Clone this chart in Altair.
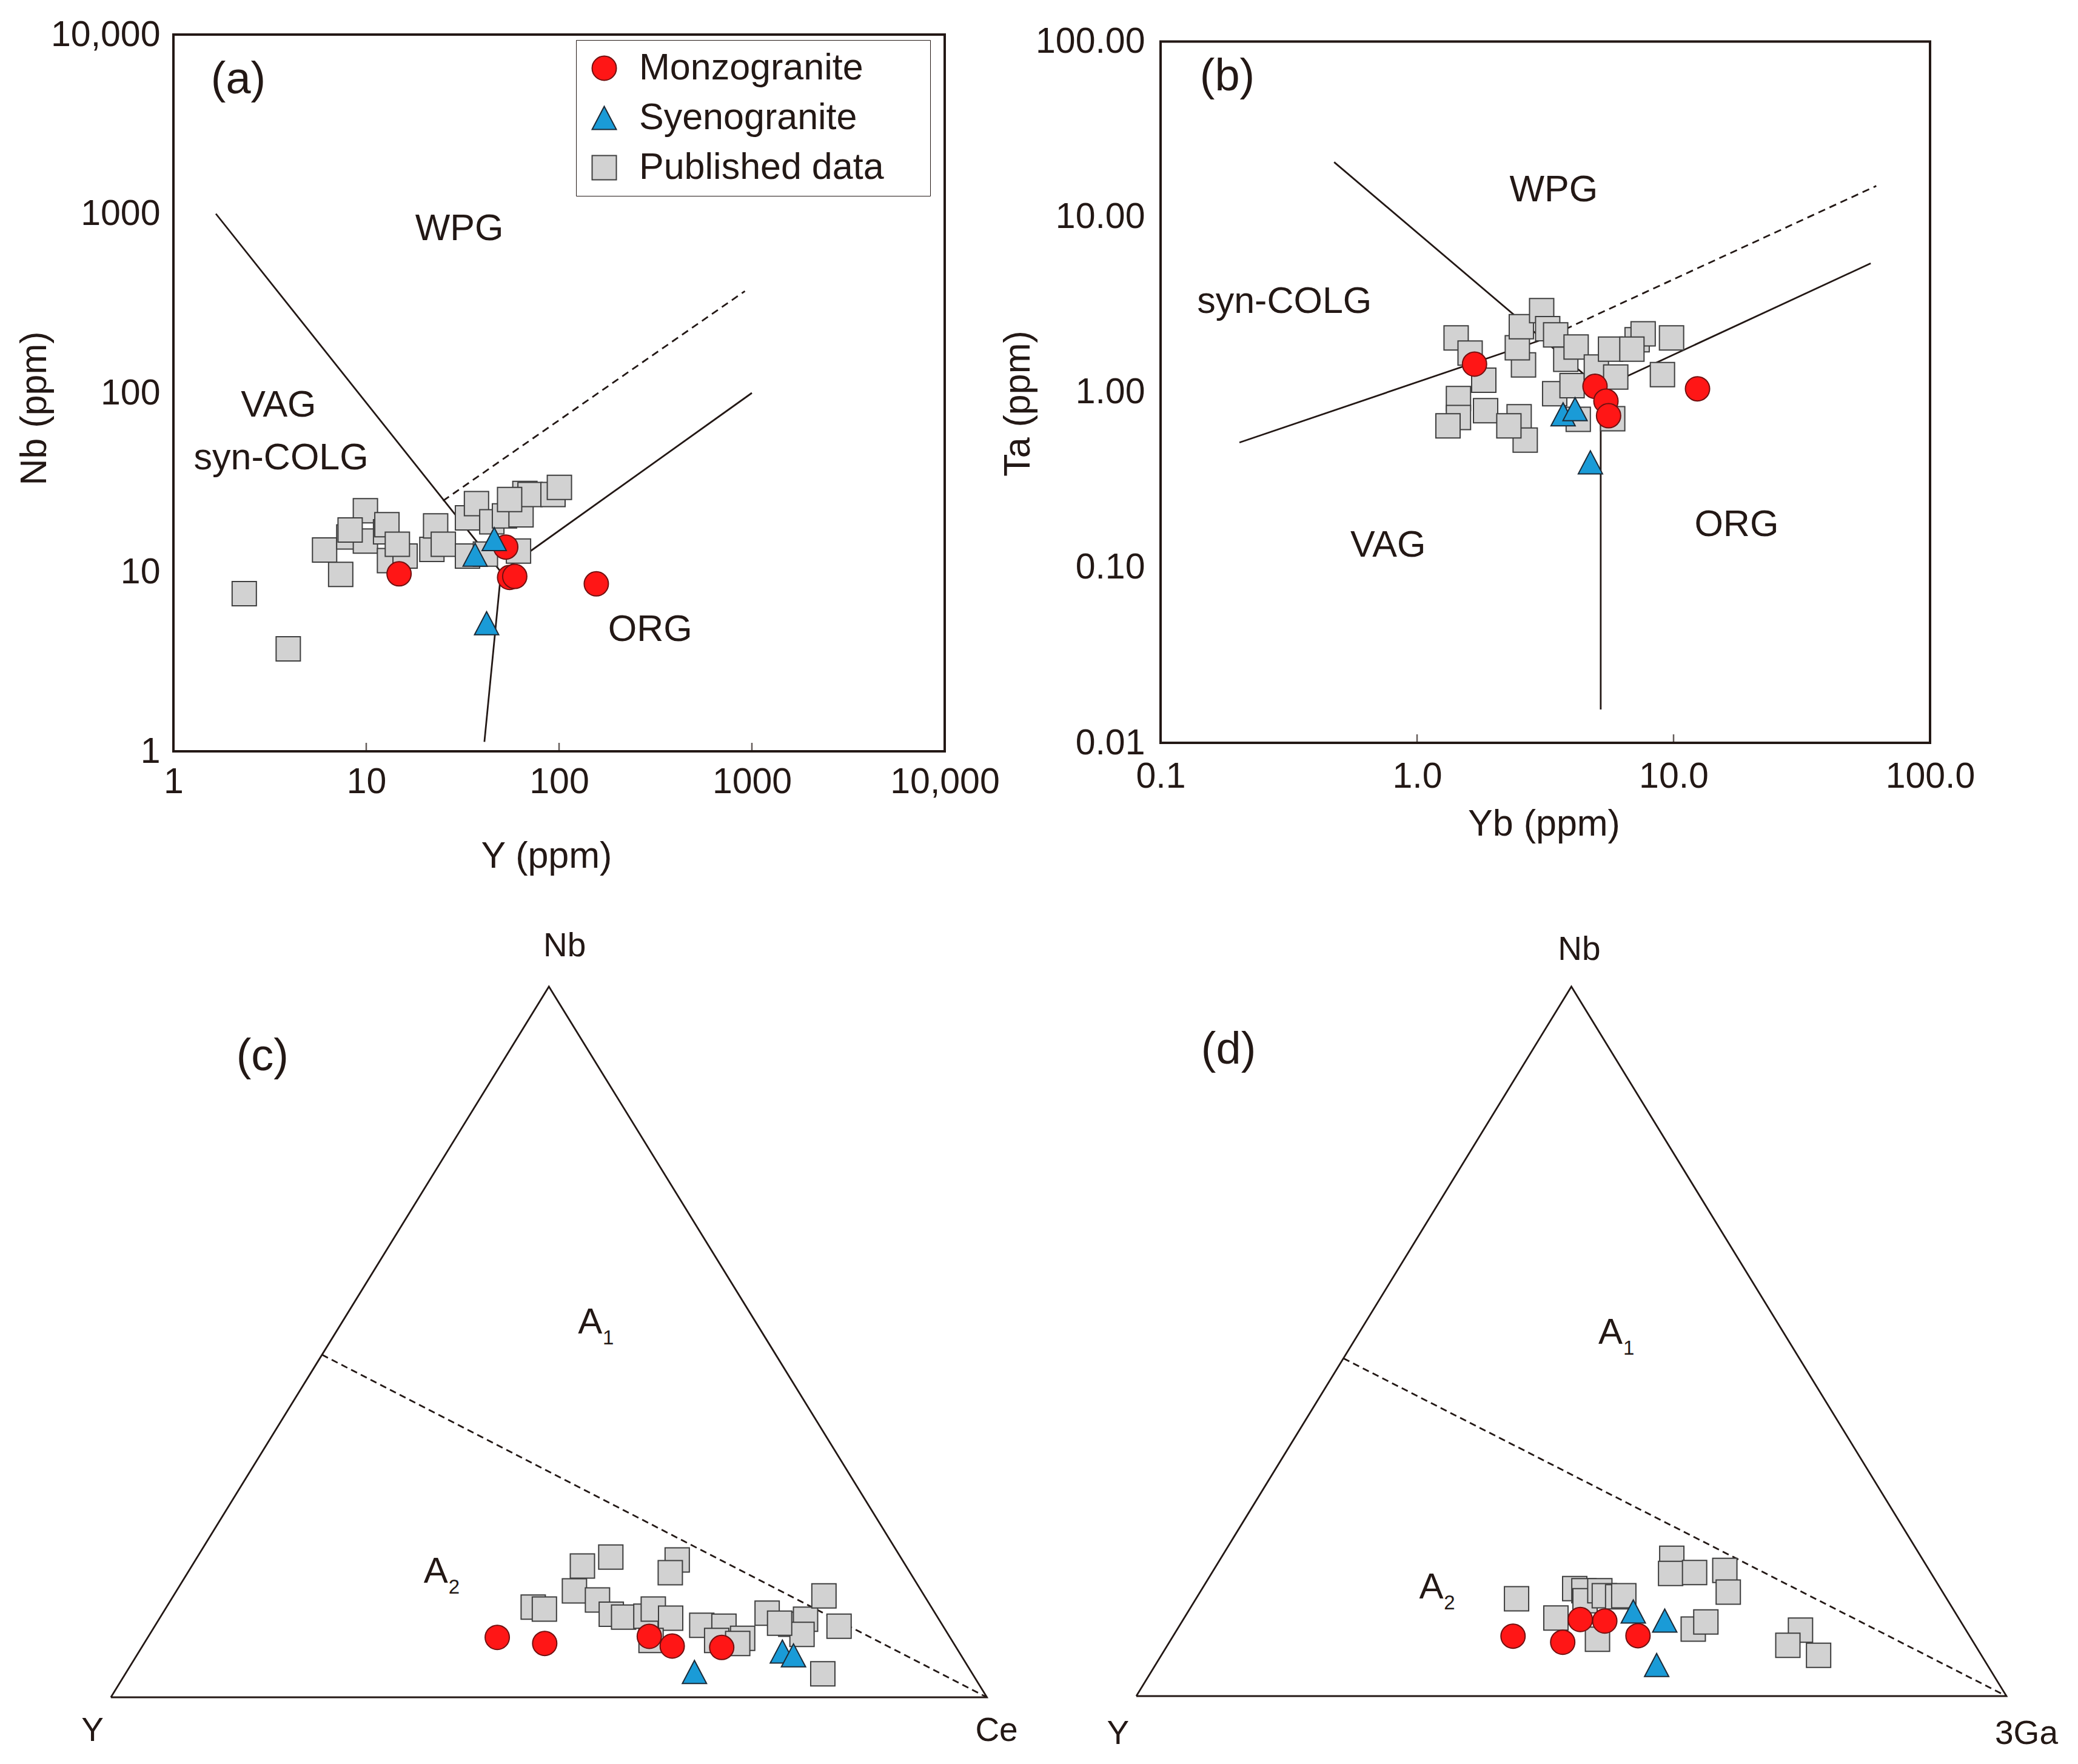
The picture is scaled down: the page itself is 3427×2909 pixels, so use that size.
import altair as alt
import pandas as pd

FONT = "Liberation Sans"
INK = "#231815"

GROUPS = ["Monzogranite", "Syenogranite", "Published data"]
FILLS = ["#ff1616", "#1a9bd7", "#d2d2d2"]
STROKES = ["#701010", "#1d2a36", "#3f3f3f"]
SHAPES = ["circle", "M0,-0.95L1,0.95L-1,0.95Z", "square"]

# ---------------- (a) Nb vs Y (ppm) ----------------
a_monzo_y = [14.8, 52.9, 55.4, 58.9, 156]
a_monzo_nb = [9.78, 13.8, 9.34, 9.46, 8.6]
a_syeno_y = [36.7, 46.1, 42.1]
a_syeno_nb = [12.5, 15.3, 5.19]
a_pub_y = [2.33, 3.94, 6.08, 7.37, 8.12, 9.90, 9.90, 8.25, 12.6, 12.8, 13.2, 15.9, 14.5, 21.9, 22.9,
           25.1, 33.5, 37.3, 33.5, 44.8, 52.1, 63.5, 66.5, 70.7, 93.0, 100.4, 61.6, 55.4, 41.5]
a_pub_nb = [7.59, 3.73, 13.3, 9.71, 15.7, 22.0, 14.9, 17.2, 16.8, 18.4, 11.6, 12.3, 14.3, 13.4, 18.1,
            14.3, 20.1, 24.1, 12.3, 19.1, 20.6, 20.9, 27.5, 27.1, 27.1, 29.7, 13.1, 25.4, 12.6]
a_x_range = [1, 10000]
a_y_range = [1, 10000]
a_tick_values = [1, 10, 100, 1000, 10000]
a_tick_labels = ["1", "10", "100", "1000", "10,000"]
a_inner_ticks = [10, 100, 1000]
a_solid_x = {"wpg_vag": [1.66, 50, 41], "org": [50, 1000]}
a_solid_y = {"wpg_vag": [1000, 10, 1.13], "org": [10, 100]}
a_dash_x = {"org_upper": [25, 920]}
a_dash_y = {"org_upper": [25, 370]}
a_region_text = ["WPG", "VAG", "syn-COLG", "ORG"]
a_region_x = [30.4, 3.51, 3.62, 297]
a_region_y = [820, 85.1, 43.2, 4.76]
a_panel = ["(a)", 2.17, 5555]

# ---------------- (b) Ta vs Yb (ppm) ----------------
b_monzo_yb = [1.675, 4.94, 5.45, 5.58, 12.4]
b_monzo_ta = [1.445, 1.08, 0.889, 0.734, 1.045]
b_syeno_yb = [3.71, 4.13, 4.74]
b_syeno_ta = [0.748, 0.80, 0.398]
b_pub_yb = [1.42, 1.61, 1.82, 1.45, 1.45, 1.32, 1.85, 2.50, 2.64, 2.28, 2.60, 2.46, 2.55, 3.06, 3.23,
            3.47, 3.80, 4.17, 3.44, 4.02, 4.25, 5.00, 5.68, 5.95, 5.79, 7.21, 7.61, 9.82, 9.05, 6.88]
b_pub_ta = [2.04, 1.67, 1.17, 0.92, 0.717, 0.643, 0.784, 0.724, 0.533, 0.643, 1.43, 1.79, 2.36, 2.92, 2.30,
            2.12, 1.54, 1.81, 0.98, 1.09, 0.70, 1.39, 1.76, 1.22, 0.705, 1.99, 2.15, 2.04, 1.26, 1.76]
b_x_range = [0.1, 100]
b_y_range = [0.01, 100]
b_x_tick_values = [0.1, 1, 10, 100]
b_x_tick_labels = ["0.1", "1.0", "10.0", "100.0"]
b_y_tick_values = [0.01, 0.1, 1, 10, 100]
b_y_tick_labels = ["0.01", "0.10", "1.00", "10.00", "100.00"]
b_inner_ticks = [1, 10]
b_solid_x = {"vag_colg": [0.203, 3.1], "colg_wpg": [0.475, 5.2, 5.2], "org": [5.2, 58.7]}
b_solid_y = {"vag_colg": [0.516, 2.0], "colg_wpg": [20.5, 1.05, 0.0155], "org": [1.05, 5.43]}
b_dash_x = {"org_upper": [3.1, 61.7]}
b_dash_y = {"org_upper": [2.0, 15.0]}
b_region_text = ["WPG", "syn-COLG", "VAG", "ORG"]
b_region_x = [3.41, 0.304, 0.771, 17.6]
b_region_y = [14.1, 3.28, 0.133, 0.175]
b_panel = ["(b)", 0.182, 62.6]

# ---------------- (c) Nb-Y-Ce ternary (%) ----------------
c_monzo_nb = [8.43, 7.58, 8.58, 7.21, 7.01]
c_monzo_ce = [39.89, 45.73, 57.17, 60.47, 66.22]
c_syeno_nb = [3.57, 6.44, 5.90]
c_syeno_ce = [64.83, 73.43, 74.97]
c_pub_nb = [18.47, 19.73, 19.33, 17.53, 14.97, 13.69, 12.70, 12.41, 11.70, 11.28, 11.42, 12.41, 11.13, 10.14,
            10.00, 8.29, 8.00, 8.00, 11.84, 10.28, 10.99, 14.27, 10.00, 3.31, 8.86, 10.43, 7.58]
c_pub_ce = [44.59, 47.20, 54.98, 55.09, 45.43, 48.70, 41.86, 43.28, 51.27, 52.89, 55.36, 55.71, 58.33, 62.38,
            64.98, 67.97, 65.15, 57.66, 68.99, 72.47, 73.80, 74.26, 78.12, 79.61, 74.46, 71.12, 67.76]
c_divide_nb = [48.2, 0]
c_divide_ce = [0, 100]
c_vertex_text = ["Nb", "Y", "Ce"]
c_vertex_x = [0.518, -0.021, 1.011]
c_vertex_y = [1.057, -0.047, -0.047]
c_field_x = [0.547, 0.371]
c_field_y = [0.527, 0.177]
c_field_sub = ["1", "2"]
c_panel = ["(c)", 0.173, 0.901]

# ---------------- (d) Nb-Y-3Ga ternary (%) ----------------
d_monzo_nb = [8.45, 7.59, 10.79, 10.58, 8.51]
d_monzo_ga = [39.07, 45.21, 45.63, 48.55, 53.40]
d_syeno_nb = [11.93, 10.64, 4.38]
d_syeno_ga = [51.15, 55.41, 57.61]
d_pub_nb = [13.72, 11.01, 8.02, 15.15, 14.86, 13.44, 14.86, 14.15, 14.00, 14.15, 19.42, 17.29, 17.42, 17.71,
            14.66, 9.45, 10.45, 9.30, 7.16, 5.74]
d_pub_ga = [36.84, 42.72, 48.99, 42.81, 44.01, 44.85, 45.84, 46.71, 48.32, 48.95, 51.83, 52.76, 55.45, 58.78,
            60.70, 59.28, 60.23, 71.68, 71.30, 75.54]
d_divide_nb = [47.6, 0]
d_divide_ga = [0, 100]
d_vertex_text = ["Nb", "Y", "3Ga"]
d_vertex_x = [0.509, -0.021, 1.023]
d_vertex_y = [1.052, -0.053, -0.053]
d_field_x = [0.545, 0.339]
d_field_y = [0.512, 0.153]
d_field_sub = ["1", "2"]
d_panel = ["(d)", 0.106, 0.910]

# triangle outline, as compositions (Nb %, third-apex %)
tri_nb = [0, 100, 0, 0]
tri_third = [0, 0, 100, 0]

LEG = alt.Legend(title=" ", titleOrient="right", titlePadding=60, titleFontSize=4,
                 orient="none", legendX=664, legendY=9, labelFontSize=61, labelFont=FONT,
                 labelColor=INK, labelLimit=2000, padding=16, strokeColor=INK, rowPadding=20,
                 labelOffset=27, symbolSize=1600, symbolStrokeWidth=2)


def points_df(sets):
    rows = []
    for grp, xs, ys in sets:
        for x, y in zip(xs, ys):
            rows.append({"x": x, "y": y, "group": grp})
    return pd.DataFrame(rows)


def lines_df(xd, yd):
    rows = []
    for k in xd:
        for i, (x, y) in enumerate(zip(xd[k], yd[k])):
            rows.append({"seg": k, "o": i, "x": x, "y": y})
    return pd.DataFrame(rows)


def label_expr(values, labels):
    expr = "''"
    for v, l in reversed(list(zip(values, labels))):
        expr = f"abs(datum.value - {v}) < {v * 1e-6} ? '{l}' : ({expr})"
    return expr


def point_layer(df, X, Y):
    return alt.Chart(df).mark_point(filled=True, size=1600, strokeWidth=2, opacity=1).encode(
        x=X, y=Y,
        shape=alt.Shape("group:N", scale=alt.Scale(domain=GROUPS, range=SHAPES), legend=LEG),
        fill=alt.Fill("group:N", scale=alt.Scale(domain=GROUPS, range=FILLS), legend=LEG),
        stroke=alt.Stroke("group:N", scale=alt.Scale(domain=GROUPS, range=STROKES), legend=LEG),
    )


LW = 2.8


def log_panel(pts, sx, sy, dx, dy, xvals, xlabs, yvals, ylabs, xrng, yrng, ydom, inner, rt, rx, ry, panel,
              xtitle, ytitle, w, h, xlpad, ylpad, xtx, xty, ytx, yty):
    X = alt.X("x:Q", scale=alt.Scale(type="log", domain=xrng, nice=False),
              axis=alt.Axis(values=xvals, labelExpr=label_expr(xvals, xlabs), ticks=False, tickSize=0,
                            domain=False, grid=False, labelFontSize=59, labelBaseline="middle",
                            labelPadding=xlpad, labelFlush=False, labelOverlap=False, labelLimit=2000,
                            title=xtitle, titleFontSize=61, titleX=xtx, titleY=xty,
                            titleBaseline="middle", titleAlign="center"))
    Y = alt.Y("y:Q", scale=alt.Scale(type="log", domain=ydom, nice=False),
              axis=alt.Axis(values=yvals, labelExpr=label_expr(yvals, ylabs), ticks=False, tickSize=0,
                            domain=False, grid=False, labelFontSize=59, labelPadding=ylpad,
                            labelFlush=False, labelOverlap=False, labelLimit=2000,
                            title=ytitle, titleFontSize=61, titleX=ytx, titleY=yty, titleAngle=-90,
                            titleBaseline="middle", titleAlign="center"))
    frame = alt.Chart(pd.DataFrame({"x": [xrng[0]], "x2": [xrng[1]], "y": [yrng[0]], "y2": [yrng[1]]})).mark_rect(
        fillOpacity=0, stroke=INK, strokeWidth=4).encode(x=X, x2="x2:Q", y=Y, y2="y2:Q")
    solid = alt.Chart(lines_df(sx, sy)).mark_line(color=INK, strokeWidth=LW).encode(
        x=X, y=Y, detail="seg:N", order="o:Q")
    dashed = alt.Chart(lines_df(dx, dy)).mark_line(color=INK, strokeWidth=LW, strokeDash=[12, 8]).encode(
        x=X, y=Y, detail="seg:N", order="o:Q")
    ticks = alt.Chart(pd.DataFrame({"x": inner, "y": [yrng[0]] * len(inner)})).mark_tick(
        orient="vertical", size=14, thickness=2.5, color=INK, yOffset=-7).encode(x=X, y=Y)
    regions = alt.Chart(pd.DataFrame({"x": rx, "y": ry, "t": rt})).mark_text(
        font=FONT, fontSize=61, color=INK, align="center", baseline="middle").encode(x=X, y=Y, text="t:N")
    plab = alt.Chart(pd.DataFrame({"x": [panel[1]], "y": [panel[2]], "t": [panel[0]]})).mark_text(
        font=FONT, fontSize=74, color=INK, align="center", baseline="middle").encode(x=X, y=Y, text="t:N")
    pl = point_layer(pts, X, Y)
    return alt.layer(frame, solid, dashed, ticks, regions, plab, pl).properties(width=w, height=h)


def tern_panel(pts_sets, div_nb, div_third, vt, vx, vy, fx, fy, fsub, panel, xdom, w, h):
    def proj(nb, third):
        return [t / 100 + n / 200 for n, t in zip(nb, third)], [n / 100 for n in nb]

    X = alt.X("x:Q", scale=alt.Scale(domain=xdom, nice=False, zero=False), axis=None)
    Y = alt.Y("y:Q", scale=alt.Scale(domain=[0, 1], nice=False, zero=False), axis=None)
    sets = []
    for grp, nb, third in pts_sets:
        xs, ys = proj(nb, third)
        sets.append((grp, xs, ys))
    tx, ty = proj(tri_nb, tri_third)
    ddx, ddy = proj(div_nb, div_third)
    tri = alt.Chart(pd.DataFrame({"x": tx, "y": ty, "o": list(range(len(tx)))})).mark_line(
        color=INK, strokeWidth=LW).encode(x=X, y=Y, order="o:Q")
    div = alt.Chart(pd.DataFrame({"x": ddx, "y": ddy, "o": [0, 1]})).mark_line(
        color=INK, strokeWidth=LW, strokeDash=[11, 7]).encode(x=X, y=Y, order="o:Q")
    vlab = alt.Chart(pd.DataFrame({"x": vx, "y": vy, "t": vt})).mark_text(
        font=FONT, fontSize=55, color=INK, align="center", baseline="middle").encode(x=X, y=Y, text="t:N")
    flab = alt.Chart(pd.DataFrame({"x": fx, "y": fy, "t": ["A"] * len(fx)})).mark_text(
        font=FONT, fontSize=60, color=INK, align="center", baseline="middle").encode(x=X, y=Y, text="t:N")
    fsubl = alt.Chart(pd.DataFrame({"x": fx, "y": fy, "t": fsub})).mark_text(
        font=FONT, fontSize=33, color=INK, align="center", baseline="middle", dx=30, dy=26).encode(
        x=X, y=Y, text="t:N")
    plab = alt.Chart(pd.DataFrame({"x": [panel[1]], "y": [panel[2]], "t": [panel[0]]})).mark_text(
        font=FONT, fontSize=74, color=INK, align="center", baseline="middle").encode(x=X, y=Y, text="t:N")
    pl = point_layer(points_df(sets), X, Y)
    return alt.layer(tri, div, vlab, flab, fsubl, plab, pl).properties(width=w, height=h)


pa = log_panel(
    points_df([("Published data", a_pub_y, a_pub_nb), ("Monzogranite", a_monzo_y, a_monzo_nb),
               ("Syenogranite", a_syeno_y, a_syeno_nb)]),
    a_solid_x, a_solid_y, a_dash_x, a_dash_y, a_tick_values, a_tick_labels, a_tick_values, a_tick_labels,
    a_x_range, a_y_range, a_y_range, a_inner_ticks, a_region_text, a_region_x, a_region_y, a_panel,
    "Y (ppm)", "Nb (ppm)", 1272, 1182, 50, 22, 615, 173, -229, 616)

# panel (b) frame sits a little lower than (a): the plot area is extended upward above 100
pb = log_panel(
    points_df([("Published data", b_pub_yb, b_pub_ta), ("Monzogranite", b_monzo_yb, b_monzo_ta),
               ("Syenogranite", b_syeno_yb, b_syeno_ta)]),
    b_solid_x, b_solid_y, b_dash_x, b_dash_y, b_x_tick_values, b_x_tick_labels, b_y_tick_values,
    b_y_tick_labels, b_x_range, b_y_range, [0.01, 109.5], b_inner_ticks, b_region_text, b_region_x,
    b_region_y, b_panel, "Yb (ppm)", "Ta (ppm)", 1269, 1168, 55, 26, 632, 134, -235, 608)

pc = tern_panel(
    [("Published data", c_pub_nb, c_pub_ce), ("Monzogranite", c_monzo_nb, c_monzo_ce),
     ("Syenogranite", c_syeno_nb, c_syeno_ce)],
    c_divide_nb, c_divide_ce, c_vertex_text, c_vertex_x, c_vertex_y, c_field_x, c_field_y, c_field_sub,
    c_panel, [0.0714, 0.9518], 1272, 1172)

pd_ = tern_panel(
    [("Published data", d_pub_nb, d_pub_ga), ("Monzogranite", d_monzo_nb, d_monzo_ga),
     ("Syenogranite", d_syeno_nb, d_syeno_ga)],
    d_divide_nb, d_divide_ga, d_vertex_text, d_vertex_x, d_vertex_y, d_field_x, d_field_y, d_field_sub,
    d_panel, [0.0279, 0.9122], 1269, 1170)

chart = alt.concat(pa, pb, pc, pd_, columns=2, spacing={"row": 388, "column": 356},
                   bounds="flush", align="each").properties(
    padding={"left": 17, "top": 19, "right": 20, "bottom": 20},
    background="white",
).configure_view(stroke="transparent").configure_axis(
    labelFont=FONT, titleFont=FONT, labelColor=INK, titleColor=INK, titleFontWeight="normal"
).configure_legend(labelFont=FONT)

chart.save("out.html", embed_options={"renderer": "svg", "actions": False})
